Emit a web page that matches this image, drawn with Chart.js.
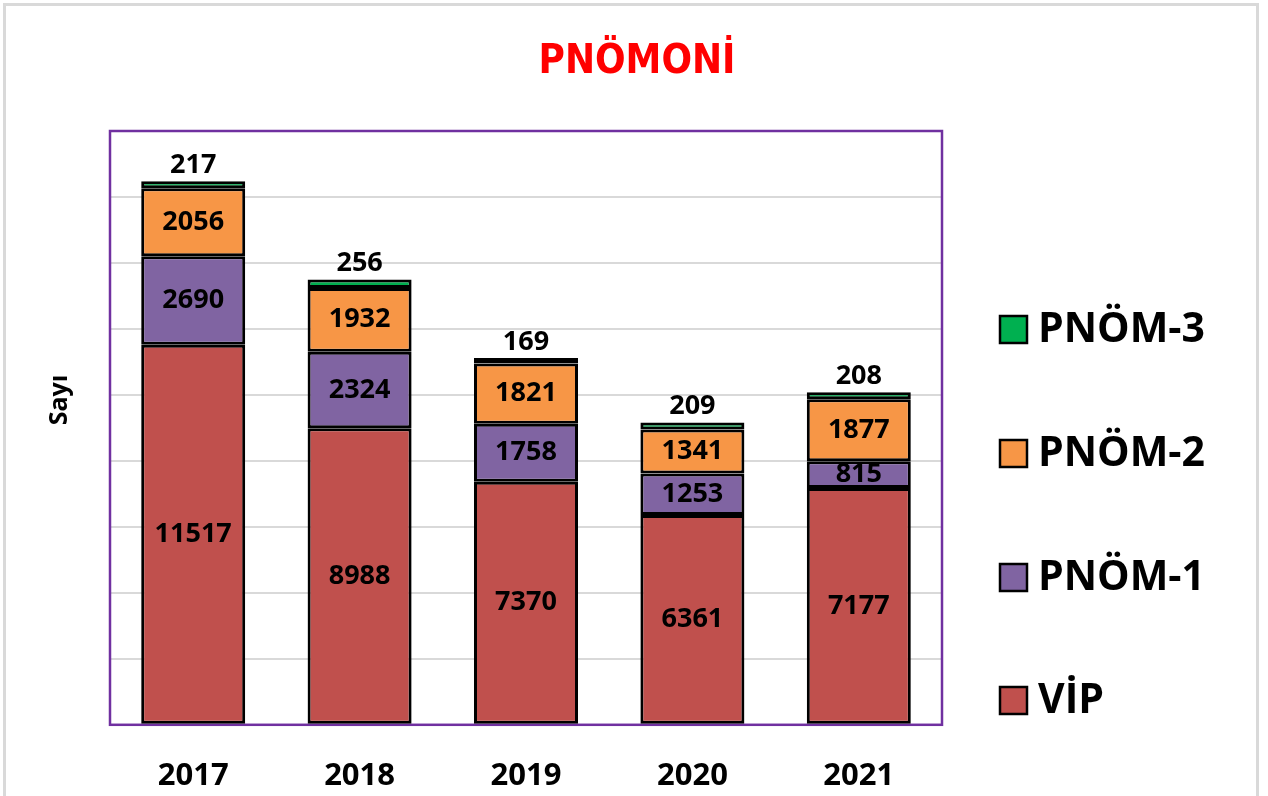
<!DOCTYPE html>
<html>
<head>
<meta charset="utf-8">
<script src="https://cdn.jsdelivr.net/npm/chart.js@4.4.1/dist/chart.umd.min.js"></script>
<style>
  html, body { margin: 0; padding: 0; background: #fff; }
  #frame { position: absolute; left: 3px; top: 3px; width: 1256px; height: 800px; border: 3px solid #d9d9d9; box-sizing: border-box; }
  #chartCanvas { position: absolute; left: 0; top: 0; }
</style>
</head>
<body>
<div id="frame"></div>
<canvas id="chartCanvas" width="1268" height="796"></canvas>
<script>
(function() {

  var years = ['2017', '2018', '2019', '2020', '2021'];
  var vip = [11517, 8988, 7370, 6361, 7177];
  var pnom1 = [2690, 2324, 1758, 1253, 815];
  var pnom2 = [2056, 1932, 1821, 1341, 1877];
  var pnom3 = [217, 256, 169, 209, 208];
  var seriesNames = ['VİP', 'PNÖM-1', 'PNÖM-2', 'PNÖM-3'];
  var seriesColors = ['#C0504D', '#8064A2', '#F79646', '#00B050'];

  var labelFont = 'bold 27px "Open Sans", "DejaVu Sans", sans-serif';

  function makeDataset(i, values) {
    return {
      label: seriesNames[i],
      data: values,
      backgroundColor: seriesColors[i],
      borderColor: '#000',
      borderWidth: 3,
      borderSkipped: false,
      categoryPercentage: 1,
      barPercentage: 0.625
    };
  }

  // draws purple plot frame, title, y title, value labels and the legend
  var decorPlugin = {
    id: 'decor',
    beforeDatasetsDraw: function(chart) {
      var ctx = chart.ctx;
      var a = chart.chartArea;
      ctx.save();
      ctx.strokeStyle = '#7030A0';
      ctx.lineWidth = 2.5;
      ctx.strokeRect(a.left, a.top, a.right - a.left, a.bottom - a.top);
      ctx.restore();
    },
    afterDatasetsDraw: function(chart) {
      var ctx = chart.ctx;
      ctx.save();

      // title
      ctx.fillStyle = '#FF0000';
      ctx.font = 'bold 40px "Liberation Sans Narrow", "DejaVu Sans Condensed", sans-serif';
      ctx.textAlign = 'center';
      ctx.textBaseline = 'middle';
      ctx.fillText('PNÖMONİ', 637, 63);

      // y axis title
      ctx.save();
      ctx.translate(60, 400);
      ctx.rotate(-Math.PI / 2);
      ctx.fillStyle = '#000';
      ctx.font = 'bold 25px "Open Sans", "DejaVu Sans", sans-serif';
      ctx.fillText('Sayı', 0, 0);
      ctx.restore();

      // value labels
      ctx.fillStyle = '#000';
      ctx.font = labelFont;
      var last = chart.data.datasets.length - 1;
      chart.data.datasets.forEach(function(ds, di) {
        var meta = chart.getDatasetMeta(di);
        meta.data.forEach(function(bar, i) {
          var v = ds.data[i];
          if (di === last) {
            ctx.fillText(String(v), bar.x, bar.y - 16);
          } else {
            ctx.fillText(String(v), bar.x, (bar.y + bar.base) / 2);
          }
        });
      });

      // legend, top series first
      var rowY = [329, 453, 577, 700];
      ctx.font = 'bold 41px "Open Sans", "DejaVu Sans", sans-serif';
      ctx.textAlign = 'left';
      for (var k = 0; k < 4; k++) {
        var ds = chart.data.datasets[last - k];
        ctx.fillStyle = ds.backgroundColor;
        ctx.fillRect(1000, rowY[k] - 13, 27, 27);
        ctx.strokeStyle = '#000';
        ctx.lineWidth = 2.5;
        ctx.strokeRect(1000, rowY[k] - 13, 27, 27);
        ctx.fillStyle = '#000';
        ctx.fillText(ds.label, 1038, rowY[k] + 1);
      }
      ctx.restore();
    }
  };

  var ctx = document.getElementById('chartCanvas').getContext('2d');
  new Chart(ctx, {
    type: 'bar',
    data: {
      labels: years,
      datasets: [
        makeDataset(0, vip),
        makeDataset(1, pnom1),
        makeDataset(2, pnom2),
        makeDataset(3, pnom3)
      ]
    },
    options: {
      responsive: false,
      animation: false,
      layout: { padding: { left: 110, right: 326, top: 131, bottom: -32 } },
      plugins: {
        legend: { display: false },
        title: { display: false },
        tooltip: { enabled: false }
      },
      scales: {
        x: {
          stacked: true,
          grid: { display: false, drawTicks: false },
          border: { display: false },
          ticks: {
            color: '#000',
            padding: 33,
            maxRotation: 0,
            font: { family: '"Open Sans", "DejaVu Sans", sans-serif', size: 31, weight: 'bold' }
          }
        },
        y: {
          stacked: true,
          min: 0,
          max: 18000,
          ticks: { display: false, stepSize: 2000 },
          grid: { color: '#d9d9d9', lineWidth: 2, drawTicks: false },
          border: { display: false }
        }
      }
    },
    plugins: [decorPlugin]
  });

})();
</script>
</body>
</html>
